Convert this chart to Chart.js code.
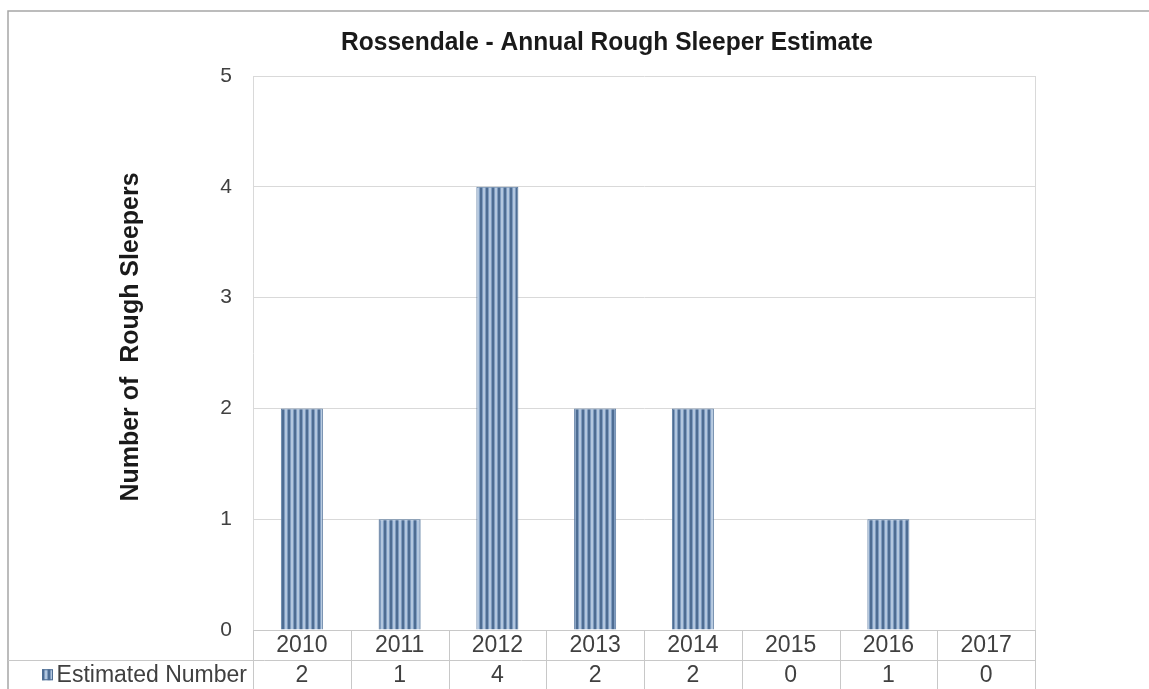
<!DOCTYPE html>
<html>
<head>
<meta charset="utf-8">
<script src="https://cdn.jsdelivr.net/npm/chart.js@4/dist/chart.umd.min.js"></script>
<style>
html,body{margin:0;padding:0;background:#fff;}
#wrap{width:1149px;height:689px;position:relative;}
</style>
</head>
<body>
<div id="wrap"><canvas id="c" width="1149" height="689"></canvas></div>
<script>
const chartTitle = 'Rossendale - Annual Rough Sleeper Estimate';
const yAxisTitle = 'Number of  Rough Sleepers';
const seriesName = 'Estimated Number';
const categories = ['2010','2011','2012','2013','2014','2015','2016','2017'];
const estimatedNumber = [2,1,4,2,2,0,1,0];
const yTicks = [0,1,2,3,4,5];

const FONT = '"Liberation Sans", Arial, sans-serif';
const TEXT = '#404040';
const DARK = '#1a1a1a';
const GRID = '#d9d9d9';

function makeStripes(){
  const c = document.createElement('canvas');
  c.width = 6; c.height = 1;
  const g = c.getContext('2d');
  const cols = ['#4e6d93','#4e6d93','#7f9cc0','#b3c7df','#b3c7df','#7f9cc0'];
  cols.forEach((col,i)=>{ g.fillStyle = col; g.fillRect(i,0,1,1); });
  return document.getElementById('c').getContext('2d').createPattern(c,'repeat');
}
const stripes = makeStripes();

function fitText(ctx, text, x, y, targetW){
  const w = ctx.measureText(text).width;
  const s = Math.min(1, targetW / w);
  ctx.save();
  ctx.translate(x, y);
  ctx.scale(s, 1);
  ctx.fillText(text, 0, 0);
  ctx.restore();
}

const tablePlugin = {
  id: 'tablePlugin',
  afterDraw(chart){
    const ctx = chart.ctx;
    const ca = chart.chartArea;
    const xs = chart.scales.x;
    const H = chart.height;
    const rowH = (H - ca.bottom) / 2;
    ctx.save();
    // frame
    ctx.strokeStyle = '#a6a6a6';
    ctx.lineWidth = 1.5;
    ctx.beginPath();
    ctx.moveTo(8, H); ctx.lineTo(8, 11); ctx.lineTo(chart.width, 11);
    ctx.stroke();
    // plot right border
    ctx.strokeStyle = GRID;
    ctx.lineWidth = 1;
    ctx.beginPath();
    ctx.moveTo(Math.round(ca.right)+0.5, ca.top);
    ctx.lineTo(Math.round(ca.right)+0.5, ca.bottom);
    ctx.stroke();
    // table lines
    ctx.strokeStyle = '#c8c8c8';
    ctx.beginPath();
    for(let i=0;i<=categories.length;i++){
      const x = Math.round(xs.getPixelForValue(i-0.5))+0.5;
      ctx.moveTo(x, ca.bottom); ctx.lineTo(x, H);
    }
    const yMid = Math.round(ca.bottom + rowH)+0.5;
    ctx.moveTo(8, yMid); ctx.lineTo(ca.right, yMid);
    ctx.moveTo(ca.left, Math.round(ca.bottom)+0.5); ctx.lineTo(ca.right, Math.round(ca.bottom)+0.5);
    ctx.stroke();
    // table texts
    ctx.fillStyle = TEXT;
    ctx.font = '23px ' + FONT;
    ctx.textAlign = 'center';
    ctx.textBaseline = 'middle';
    categories.forEach((c,i)=>{
      const x = xs.getPixelForValue(i);
      ctx.fillText(c, x, ca.bottom + rowH/2 + 1);
      ctx.fillText(String(estimatedNumber[i]), x, ca.bottom + rowH*1.5 + 1);
    });
    // legend key + series name
    const ky = ca.bottom + rowH*1.5;
    const textRight = 247;
    const tw = ctx.measureText(seriesName).width;
    const kx = Math.round(textRight - tw - 15);
    ctx.fillStyle = stripes;
    ctx.fillRect(kx, ky - 5, 11, 11);
    ctx.strokeStyle = '#4e6d93';
    ctx.strokeRect(kx + 0.5, ky - 4.5, 10, 10);
    ctx.fillStyle = TEXT;
    ctx.textAlign = 'right';
    ctx.fillText(seriesName, textRight, ky + 1);
    // chart title
    ctx.fillStyle = DARK;
    ctx.font = 'bold 26px ' + FONT;
    ctx.textAlign = 'center';
    ctx.textBaseline = 'middle';
    fitText(ctx, chartTitle, 607, 43, 532);
    // y axis title
    ctx.font = 'bold 25px ' + FONT;
    ctx.save();
    ctx.translate(131, 337);
    ctx.rotate(-Math.PI/2);
    ctx.fillText(yAxisTitle, 0, 0);
    ctx.restore();
    ctx.restore();
  }
};

new Chart(document.getElementById('c'), {
  type: 'bar',
  data: {
    labels: categories,
    datasets: [{
      label: seriesName,
      data: estimatedNumber,
      backgroundColor: stripes,
      borderColor: '#5a7aa0',
      borderWidth: 1,
      borderSkipped: 'bottom',
      categoryPercentage: 1,
      barPercentage: 0.43
    }]
  },
  options: {
    responsive: false,
    animation: false,
    devicePixelRatio: 1,
    layout: { padding: { left: 0, right: 114, top: 76, bottom: 59 } },
    plugins: {
      legend: { display: false },
      tooltip: { enabled: false },
      title: { display: false }
    },
    scales: {
      x: { display: false, offset: true },
      y: {
        min: 0, max: 5,
        afterFit(s){ s.width = 253; },
        afterBuildTicks(s){ s.ticks = yTicks.map(v=>({value:v})); },
        grid: { color: GRID, drawTicks: false },
        border: { display: true, color: GRID },
        ticks: { color: TEXT, padding: 21, font: { family: FONT, size: 21 } },
        title: { display: false, text: yAxisTitle }
      }
    }
  },
  plugins: [tablePlugin]
});
</script>
</body>
</html>
